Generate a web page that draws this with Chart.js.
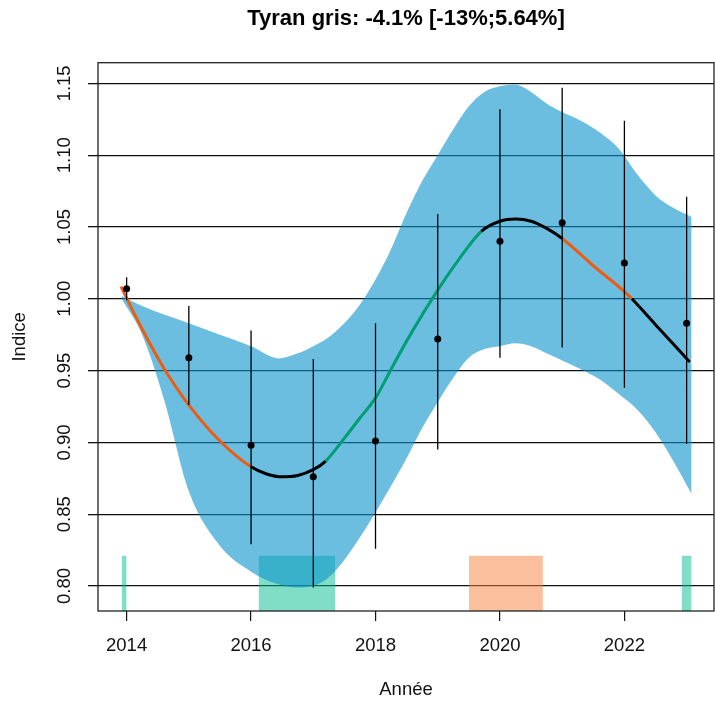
<!DOCTYPE html>
<html>
<head>
<meta charset="utf-8">
<script src="https://cdn.jsdelivr.net/npm/chart.js@4.4.1/dist/chart.umd.min.js"></script>
<style>
  body { margin: 0; background: #fff; }
  canvas { display: block; }
</style>
</head>
<body>
<canvas id="trendChart" width="715" height="703"></canvas>
<script>
// observed yearly index with confidence interval
var years = [2014, 2015, 2016, 2017, 2018, 2019, 2020, 2021, 2022, 2023];
var obsIndex = [1.007, 0.959, 0.898, 0.876, 0.901, 0.972, 1.040, 1.053, 1.025, 0.983];
var obsLow = [0.999, 0.926, 0.829, 0.799, 0.826, 0.895, 0.959, 0.966, 0.938, 0.899];
var obsHigh = [1.015, 0.995, 0.978, 0.958, 0.983, 1.059, 1.132, 1.147, 1.124, 1.071];

// smoothed trend
var trendX = [2013.91, 2014.2, 2014.5, 2014.65, 2015.0, 2015.5, 2016.0, 2016.25, 2016.5, 2016.75,
  2017.0, 2017.2, 2017.5, 2017.75, 2018.0, 2018.3, 2018.6, 2019.0, 2019.3, 2019.7,
  2020.0, 2020.25, 2020.5, 2020.75, 2021.0, 2021.5, 2022.0, 2022.12, 2022.5, 2023.05];
var trendY = [1.0085, 0.983, 0.959, 0.948, 0.926, 0.901, 0.883, 0.878, 0.876, 0.877,
  0.881, 0.887, 0.903, 0.917, 0.931, 0.955, 0.978, 1.006, 1.025, 1.047,
  1.054, 1.0555, 1.054, 1.049, 1.042, 1.023, 1.005, 1.000, 0.982, 0.956];
// colour of trend pieces (start year of each piece)
var pieceStart = [2013.91, 2016.0, 2017.2, 2019.7, 2021.0, 2022.12];
var pieceKind = ['decline', 'stable', 'increase', 'stable', 'decline', 'stable'];

// confidence ribbon of the trend
var ribbonX = [2013.92, 2014.25, 2014.6, 2015.0, 2015.5, 2016.0, 2016.45, 2016.75, 2017.0, 2017.3,
  2017.75, 2018.2, 2018.5, 2018.75, 2019.0, 2019.25, 2019.5, 2019.75, 2020.0, 2020.25,
  2020.5, 2020.75, 2021.0, 2021.3, 2021.6, 2021.9, 2022.2, 2022.5, 2022.8, 2023.08];
var ribbonUpper = [1.002, 0.995, 0.989, 0.983, 0.975, 0.967, 0.9585, 0.962, 0.967, 0.975,
  0.996, 1.030, 1.060, 1.082, 1.100, 1.118, 1.134, 1.144, 1.148, 1.149,
  1.144, 1.136, 1.130, 1.124, 1.116, 1.105, 1.087, 1.072, 1.063, 1.057];
var ribbonLower = [1.000, 0.975, 0.930, 0.866, 0.828, 0.810, 0.801, 0.799, 0.800, 0.808,
  0.834, 0.866, 0.889, 0.910, 0.928, 0.945, 0.959, 0.965, 0.967, 0.969,
  0.967, 0.962, 0.957, 0.951, 0.944, 0.934, 0.923, 0.907, 0.886, 0.864];

// periods marked at the bottom
var bandStart = [2013.92, 2016.12, 2019.5, 2022.92];
var bandEnd = [2014.0, 2017.35, 2020.69, 2023.08];
var bandKind = ['increase', 'increase', 'decline', 'increase'];
var bandTop = 0.821;

var xTicks = [2014, 2016, 2018, 2020, 2022];
var yTicks = [0.80, 0.85, 0.90, 0.95, 1.00, 1.05, 1.10, 1.15];

var lineColors = { decline: '#ee5d0f', stable: '#000000', increase: '#009e73' };
var bandColors = { decline: 'rgba(245,130,60,0.5)', increase: 'rgba(0,190,140,0.5)' };
var FONT = '"Liberation Sans", Arial, sans-serif';

function pieceColor(x) {
  var k = 0;
  for (var i = 0; i < pieceStart.length; i++) {
    if (x >= pieceStart[i] - 1e-6) k = i;
  }
  return lineColors[pieceKind[k]];
}

var datasets = [];

// points
datasets.push({
  data: years.map(function (y, i) { return { x: y, y: obsIndex[i] }; }),
  showLine: false,
  pointRadius: 3.5,
  pointBackgroundColor: '#000',
  pointBorderWidth: 0,
  order: 0
});

// error bars, one segment per year separated by gaps
var errData = [];
years.forEach(function (y, i) {
  errData.push({ x: y, y: obsLow[i] }, { x: y, y: obsHigh[i] }, { x: y, y: null });
});
datasets.push({
  data: errData,
  borderColor: '#000',
  borderWidth: 1.3,
  pointRadius: 0,
  spanGaps: false,
  order: 1
});

// trend line
datasets.push({
  data: trendX.map(function (x, i) { return { x: x, y: trendY[i] }; }),
  borderWidth: 3,
  pointRadius: 0,
  cubicInterpolationMode: 'monotone',
  borderCapStyle: 'butt',
  segment: {
    borderColor: function (ctx) { return pieceColor(ctx.p0.parsed.x); }
  },
  order: 2
});

// ribbon: lower then upper filled to previous
datasets.push({
  data: ribbonX.map(function (x, i) { return { x: x, y: ribbonLower[i] }; }),
  borderWidth: 0,
  pointRadius: 0,
  cubicInterpolationMode: 'monotone',
  fill: false,
  order: 3
});
datasets.push({
  data: ribbonX.map(function (x, i) { return { x: x, y: ribbonUpper[i] }; }),
  borderWidth: 0,
  pointRadius: 0,
  cubicInterpolationMode: 'monotone',
  fill: '-1',
  backgroundColor: 'rgba(10,147,205,0.6)',
  order: 4
});

// bottom bands
bandStart.forEach(function (s, i) {
  datasets.push({
    data: [{ x: s, y: bandTop }, { x: bandEnd[i], y: bandTop }],
    borderWidth: 0,
    pointRadius: 0,
    fill: 'start',
    backgroundColor: bandColors[bandKind[i]],
    order: 5
  });
});

// frame, rotated y labels and centred title
var decor = {
  id: 'decor',
  afterDraw: function (chart) {
    var ctx = chart.ctx, a = chart.chartArea, ys = chart.scales.y;
    ctx.save();
    ctx.strokeStyle = '#222';
    ctx.lineWidth = 1.3;
    ctx.strokeRect(a.left, a.top, a.right - a.left, a.bottom - a.top);

    ctx.fillStyle = '#111';
    ctx.font = '18.5px ' + FONT;
    ctx.textAlign = 'center';
    ctx.textBaseline = 'middle';
    yTicks.forEach(function (v) {
      ctx.save();
      ctx.translate(a.left - 33, ys.getPixelForValue(v));
      ctx.rotate(-Math.PI / 2);
      ctx.fillText(v.toFixed(2), 0, 0);
      ctx.restore();
    });

    ctx.fillStyle = '#000';
    ctx.font = 'bold 22px ' + FONT;
    ctx.fillText('Tyran gris: -4.1% [-13%;5.64%]', (a.left + a.right) / 2, 19);
    ctx.restore();
  }
};

new Chart(document.getElementById('trendChart'), {
  type: 'line',
  data: { datasets: datasets },
  plugins: [decor],
  options: {
    responsive: false,
    animation: false,
    layout: { autoPadding: false, padding: { left: 0, right: 1, top: 62.7, bottom: 0 } },
    plugins: {
      legend: { display: false },
      tooltip: { enabled: false },
      title: { display: false }
    },
    scales: {
      x: {
        type: 'linear',
        min: 2013.54,
        max: 2023.44,
        afterBuildTicks: function (axis) { axis.ticks = xTicks.map(function (v) { return { value: v }; }); },
        afterFit: function (axis) { axis.height = 92; },
        grid: { drawOnChartArea: false, drawTicks: true, tickLength: 10, color: '#111', lineWidth: 1.2 },
        border: { display: false },
        ticks: {
          padding: 14,
          color: '#111',
          font: { family: FONT, size: 18.5 },
          maxRotation: 0,
          callback: function (v) { return String(v); }
        },
        title: {
          display: true,
          text: 'Année',
          color: '#111',
          font: { family: FONT, size: 18.5 },
          padding: { top: 0, bottom: 1.6 }
        }
      },
      y: {
        type: 'linear',
        min: 0.7826,
        max: 1.1644,
        afterBuildTicks: function (axis) { axis.ticks = yTicks.map(function (v) { return { value: v }; }); },
        afterFit: function (axis) { axis.width = 98; },
        grid: { drawTicks: true, tickLength: 10, color: '#111', lineWidth: 1.3 },
        border: { display: false },
        ticks: { display: false },
        title: {
          display: true,
          text: 'Indice',
          color: '#111',
          font: { family: FONT, size: 18.5 },
          padding: { top: 9, bottom: 0 }
        }
      }
    }
  }
});
</script>
</body>
</html>
